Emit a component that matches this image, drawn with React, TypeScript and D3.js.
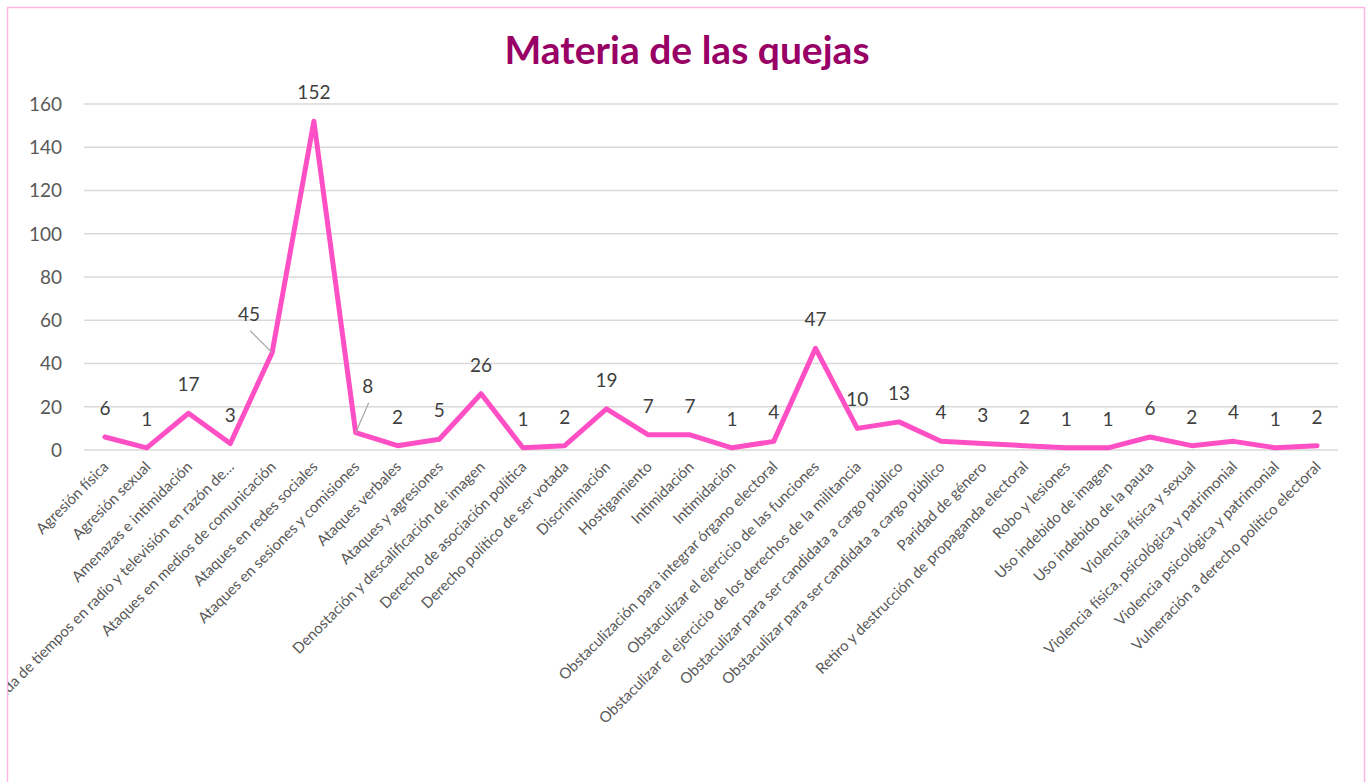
import { useEffect, useRef } from 'react';
import * as d3 from 'd3';

const categories = [
  'Agresión física',
  'Agresión sexual',
  'Amenazas e intimidación',
  'Difusión indebida de tiempos en radio y televisión en razón de…',
  'Ataques en medios de comunicación',
  'Ataques en redes sociales',
  'Ataques en sesiones y comisiones',
  'Ataques verbales',
  'Ataques y agresiones',
  'Denostación y descalificación de imagen',
  'Derecho de asociación política',
  'Derecho político de ser votada',
  'Discriminación',
  'Hostigamiento',
  'Intimidación',
  'Intimidación',
  'Obstaculización para integrar órgano electoral',
  'Obstaculizar el ejercicio de las funciones',
  'Obstaculizar el ejercicio de los derechos de la militancia',
  'Obstaculizar para ser candidata a cargo público',
  'Obstaculizar para ser candidata a cargo público',
  'Paridad de género',
  'Retiro y destrucción de propaganda electoral',
  'Robo y lesiones',
  'Uso indebido de imagen',
  'Uso indebido de la pauta',
  'Violencia física y sexual',
  'Violencia física, psicológica y patrimonial',
  'Violencia psicológica y patrimonial',
  'Vulneración a derecho político electoral',
];

const quejas = [6, 1, 17, 3, 45, 152, 8, 2, 5, 26, 1, 2, 19, 7, 7, 1, 4, 47, 10, 13, 4, 3, 2, 1, 1, 6, 2, 4, 1, 2];

const yTicks = [0, 20, 40, 60, 80, 100, 120, 140, 160];

// labels moved by hand in the original, with a leader line
const movedLabels: Record<number, { dx: number; dy: number; lx: number; ly: number }> = {
  4: { dx: -23, dy: -32, lx: -22, ly: -22 },
  6: { dx: 12, dy: -40, lx: 13, ly: -30 },
};

const W = 1372;
const H = 782;
const FONT = 'Lato, "Open Sans", sans-serif';

export default function App() {
  const svgRef = useRef<SVGSVGElement>(null);

  useEffect(() => {
    if (!svgRef.current) return;
    const svg = d3.select(svgRef.current);
    svg.selectAll('*').remove();

    const margin = { top: 104, right: 34, bottom: 332, left: 84 };

    svg.append('rect').attr('width', W).attr('height', H).attr('fill', '#fff');

    svg.append('defs').append('clipPath').attr('id', 'frame')
      .append('rect').attr('x', 8).attr('y', 8).attr('width', W - 16).attr('height', H - 8);

    svg.append('rect')
      .attr('x', 7.5).attr('y', 7.5)
      .attr('width', W - 15).attr('height', H)
      .attr('fill', 'none')
      .attr('stroke', '#ffb6e3')
      .attr('stroke-width', 1.5);

    const x = d3.scaleBand<number>()
      .domain(d3.range(categories.length))
      .range([margin.left, W - margin.right]);

    const y = d3.scaleLinear()
      .domain([0, 160])
      .range([H - margin.bottom, margin.top]);

    const cx = (i: number) => (x(i) ?? 0) + x.bandwidth() / 2;

    svg.append('text')
      .attr('x', W / 2 + 1)
      .attr('y', 64)
      .attr('text-anchor', 'middle')
      .attr('fill', '#990066')
      .attr('font-family', FONT)
      .attr('font-size', '39px')
      .attr('font-weight', 'bold')
      .text('Materia de las quejas');

    const grid = svg.append('g');
    grid.selectAll('line')
      .data(yTicks)
      .join('line')
      .attr('x1', margin.left)
      .attr('x2', W - margin.right)
      .attr('y1', d => y(d))
      .attr('y2', d => y(d))
      .attr('stroke', '#d9d9d9')
      .attr('stroke-width', 1.5);

    grid.selectAll('text')
      .data(yTicks)
      .join('text')
      .attr('x', 62)
      .attr('y', d => y(d))
      .attr('dy', '0.36em')
      .attr('text-anchor', 'end')
      .attr('fill', '#595959')
      .attr('font-family', FONT)
      .attr('font-size', '19px')
      .text(d => d);

    const g = svg.append('g').attr('clip-path', 'url(#frame)');

    g.selectAll('text.cat')
      .data(categories)
      .join('text')
      .attr('class', 'cat')
      .attr('transform', (_, i) => `translate(${cx(i) + 1},${H - margin.bottom + 14}) rotate(-45)`)
      .attr('text-anchor', 'end')
      .attr('dy', '0.35em')
      .attr('fill', '#595959')
      .attr('font-family', FONT)
      .attr('font-size', '15px')
      .text(d => d);

    const line = d3.line<number>()
      .x((_, i) => cx(i))
      .y(d => y(d));

    svg.append('path')
      .datum(quejas)
      .attr('d', line)
      .attr('fill', 'none')
      .attr('stroke', '#ff4fc5')
      .attr('stroke-width', 5)
      .attr('stroke-linejoin', 'round')
      .attr('stroke-linecap', 'round');

    quejas.forEach((v, i) => {
      const px = cx(i);
      const py = y(v);
      const moved = movedLabels[i];
      if (moved) {
        svg.append('line')
          .attr('x1', px + moved.lx)
          .attr('y1', py + moved.ly)
          .attr('x2', px)
          .attr('y2', py)
          .attr('stroke', '#a6a6a6')
          .attr('stroke-width', 1.2);
      }
      svg.append('text')
        .attr('x', px + (moved ? moved.dx : 0))
        .attr('y', py + (moved ? moved.dy : -22))
        .attr('text-anchor', 'middle')
        .attr('fill', '#404040')
        .attr('font-family', FONT)
        .attr('font-size', '19px')
        .text(v);
    });
  }, []);

  return (
    <svg
      ref={svgRef}
      width={W}
      height={H}
      style={{ position: 'absolute', left: 0, top: 0, display: 'block' }}
    />
  );
}
